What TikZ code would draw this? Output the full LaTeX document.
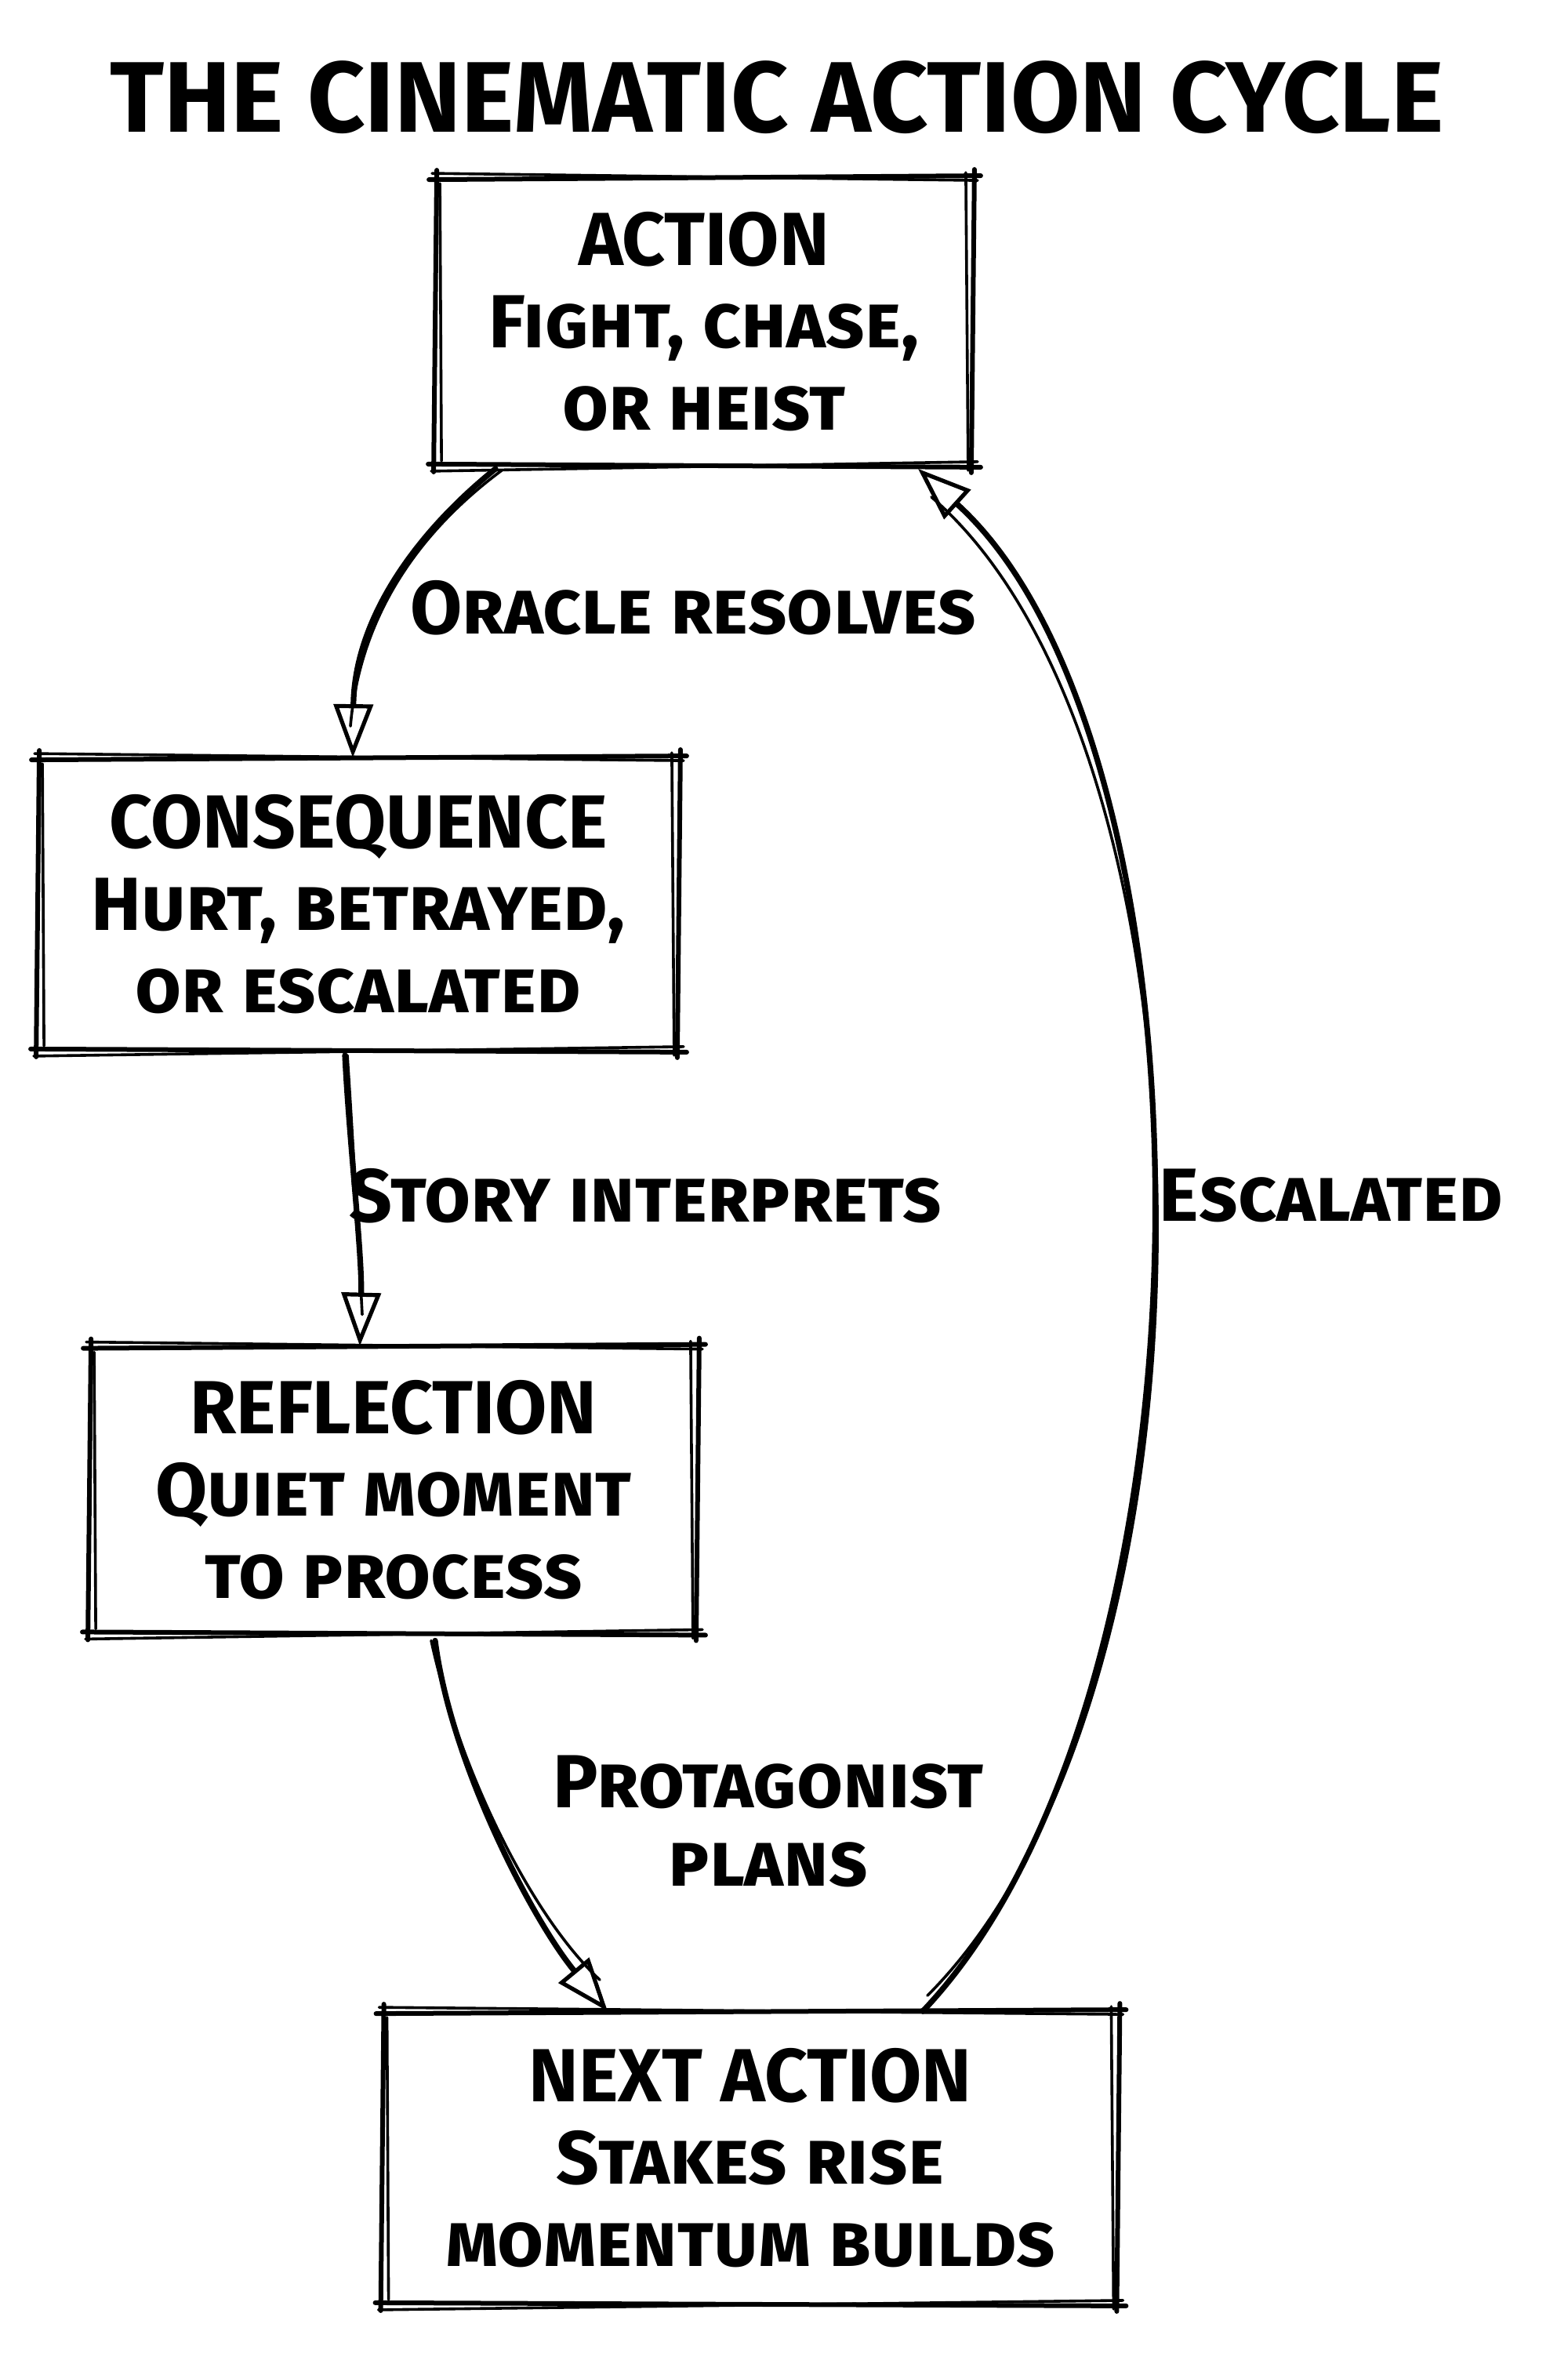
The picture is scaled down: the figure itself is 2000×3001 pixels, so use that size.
\documentclass[tikz,border=0pt]{standalone}
\usepackage{fontspec}
\setmainfont{Fira Sans}
\usetikzlibrary{arrows.meta}
\tikzset{
  sk/.style={line width=3pt, line cap=round, line join=round},
  skt/.style={line width=1.8pt, line cap=round, line join=round},
  boxnode/.style={draw=none, align=center, inner sep=0pt,
    font=\fontsize{48}{52.5}\selectfont\bfseries\scshape},
  lbl/.style={align=center, inner sep=0pt,
    font=\fontsize{48}{50}\selectfont\bfseries\scshape},
  arr/.style={line width=3.6pt, line cap=round, line join=round,
    -{Triangle[open, length=34pt, width=25pt, line width=2.6pt]}},
}
% sketchy rectangle around a named node
\newcommand\skbox[1]{%
  \draw[sk] ([shift={(-8,3)}]#1.north west) -- ([shift={(10,-2)}]#1.north east);
  \draw[sk] ([shift={(2,-10)}]#1.north east) -- ([shift={(-2,9)}]#1.south east);
  \draw[sk] ([shift={(10,2)}]#1.south east) -- ([shift={(-9,-2)}]#1.south west);
  \draw[sk] ([shift={(-2,8)}]#1.south west) -- ([shift={(2,-9)}]#1.north west);
  \draw[skt] ([shift={(-4,-5)}]#1.north west) -- ([shift={(6,4)}]#1.north east);
  \draw[skt] ([shift={(-9,-6)}]#1.north east) -- ([shift={(-6,6)}]#1.south east);
  \draw[skt] ([shift={(6,-5)}]#1.south east) -- ([shift={(-5,7)}]#1.south west);
  \draw[skt] ([shift={(8,-6)}]#1.south west) -- ([shift={(6,8)}]#1.north west);
}
\begin{document}
\begin{tikzpicture}[x=0.5pt,y=-0.5pt]
\useasboundingbox[fill=white] (0,0) rectangle (2000,3001);

\node[font=\fontsize{64}{68}\selectfont\bfseries] (title) at (991,124) {THE CINEMATIC ACTION CYCLE};

\node[boxnode, minimum width=342.5pt, minimum height=183.5pt] (A) at (898,410)
  {ACTION\\Fight, chase,\\or heist};
\node[boxnode, minimum width=408.5pt, minimum height=186.5pt] (C) at (457,1153)
  {CONSEQUENCE\\Hurt, betrayed,\\or escalated};
\node[boxnode, minimum width=387.5pt, minimum height=183pt] (R) at (502,1900)
  {REFLECTION\\Quiet moment\\to process};
\node[boxnode, minimum width=469pt, minimum height=186.5pt] (N) at (957,2752)
  {NEXT ACTION\\Stakes rise\\momentum builds};

\skbox{A}\skbox{C}\skbox{R}\skbox{N}

% connectors
\draw[arr] ([shift={(-266,4)}]A.south) .. controls (530,680) and (452,790) .. ([shift={(-7,0)}]C.north);
\draw[skt] ([shift={(-258,6)}]A.south) .. controls (524,686) and (458,796) .. ([shift={(-10,-40)}]C.north);

\draw[arr] ([shift={(-17,6)}]C.south) .. controls (445,1450) and (462,1600) .. ([shift={(-43,0)}]R.north);
\draw[skt] ([shift={(-14,6)}]C.south) .. controls (450,1450) and (458,1600) .. ([shift={(-40,-40)}]R.north);

\draw[arr] ([shift={(53,9)}]R.south) .. controls (575,2250) and (680,2450) .. ([shift={(-182,0)}]N.north);
\draw[skt] ([shift={(48,9)}]R.south) .. controls (584,2250) and (674,2440) .. ([shift={(-192,-40)}]N.north);

\draw[arr] ([shift={(220,0)}]N.north) .. controls (1570,2150) and (1560,950) .. ([shift={(273,4)}]A.south);
\draw[skt] ([shift={(226,-20)}]N.north) .. controls (1578,2150) and (1568,960) .. ([shift={(290,40)}]A.south);

% labels
\node[lbl] (l1) at (884,775) {Oracle resolves};
\node[lbl] (l2) at (823,1525) {Story interprets};
\node[lbl] (l3) at (980,2323) {Protagonist\\plans};
\node[lbl] (l4) at (1698,1525) {Escalated};
\end{tikzpicture}
\end{document}
